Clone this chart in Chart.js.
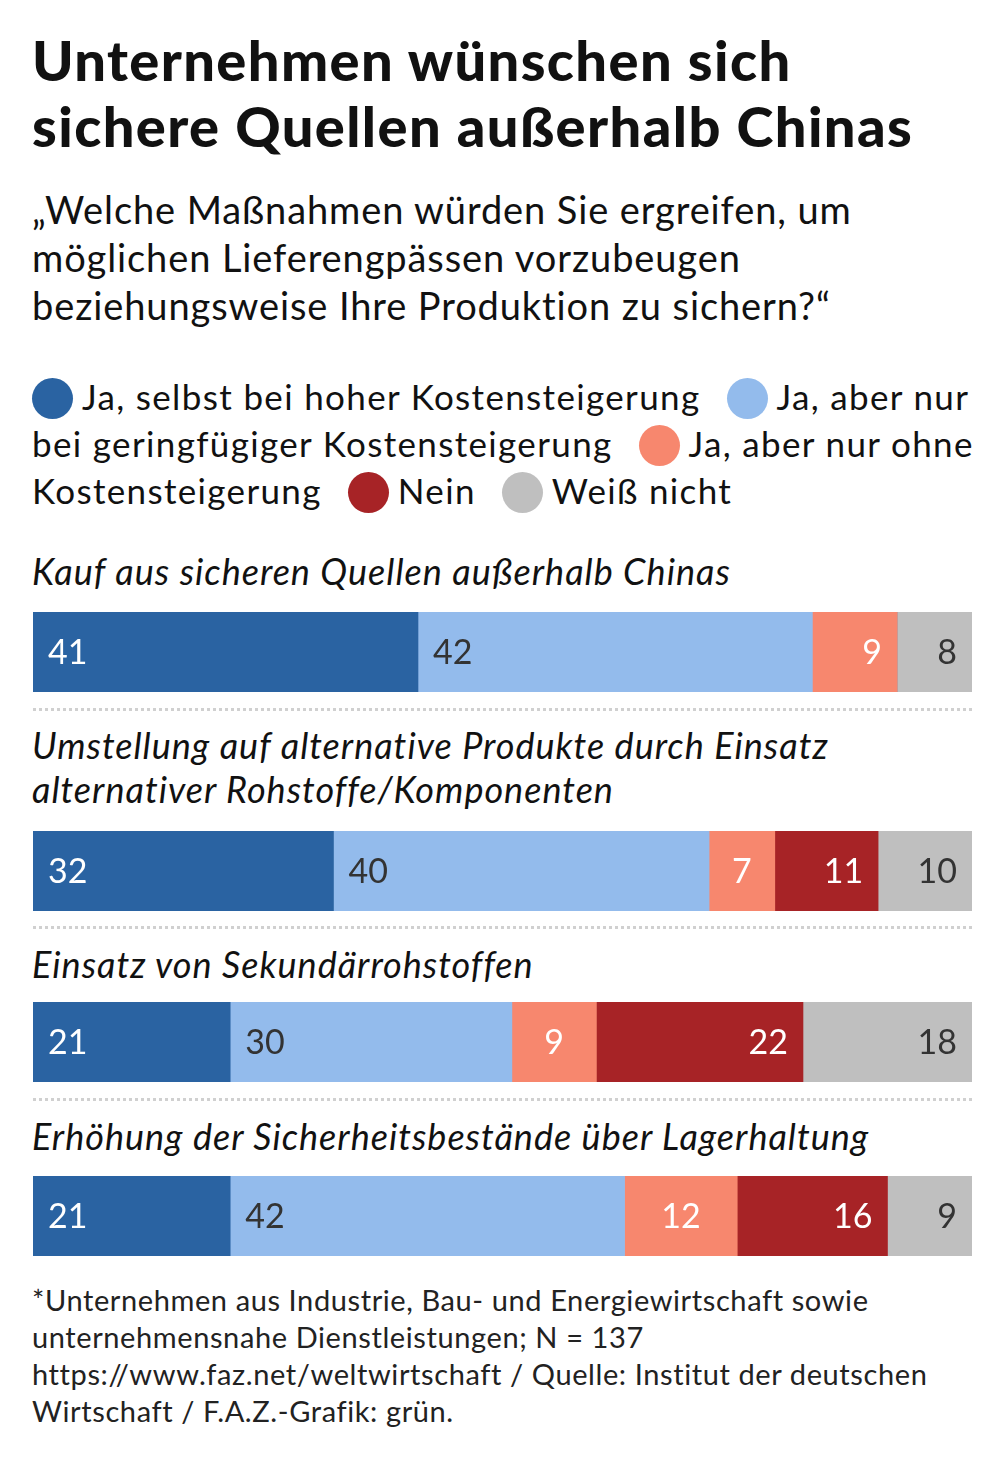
<!DOCTYPE html>
<html>
<head>
<meta charset="utf-8">
<script src="https://cdn.jsdelivr.net/npm/chart.js@4"></script>
<style>
  body { margin: 0; background: #fff; font-family: Lato, "Noto Sans", sans-serif; color: #111; }
  #page { position: relative; width: 1005px; height: 1464px; }
  .abs { position: absolute; left: 32px; }
  #title { top: 27px; font-size: 56px; line-height: 66px; font-weight: 900; letter-spacing: 1.4px; }
  #subtitle { top: 185px; font-size: 38px; line-height: 48px; letter-spacing: 0.9px; }
  #legend { top: 373px; font-size: 35px; line-height: 47px; width: 960px; letter-spacing: 1.35px; }
  #legend .dot { display: inline-block; width: 41px; height: 41px; border-radius: 50%; vertical-align: -9px; margin-right: 9px; }
  #legend .item { margin-right: 26px; }
  .rowlabel { font-size: 36px; line-height: 44px; font-style: italic; letter-spacing: 1px; }
  .bar { position: absolute; left: 33px; width: 939px; height: 80px; }
  .sep { position: absolute; left: 33px; width: 939px; border-top: 3px dotted #d0d0d0; }
  #foot { top: 1281px; font-size: 29px; line-height: 37px; color: #222; letter-spacing: 0.6px; }
</style>
</head>
<body>
<div id="page">
  <div id="title" class="abs">Unternehmen wünschen sich<br>sichere Quellen außerhalb Chinas</div>
  <div id="subtitle" class="abs">„Welche Maßnahmen würden Sie ergreifen, um<br>möglichen Lieferengpässen vorzubeugen<br>beziehungsweise Ihre Produktion zu sichern?“</div>
  <div id="legend" class="abs"></div>
  <div id="rows"></div>
  <div id="foot" class="abs">*Unternehmen aus Industrie, Bau- und Energiewirtschaft sowie<br>unternehmensnahe Dienstleistungen; N = 137<br>https://www.faz.net/weltwirtschaft / Quelle: Institut der deutschen<br>Wirtschaft / F.A.Z.-Grafik: grün.</div>
</div>
<script>
// Fragen (Kategorien), jede Zeile ein eigener Balken
var categories = [
  ['Kauf aus sicheren Quellen außerhalb Chinas'],
  ['Umstellung auf alternative Produkte durch Einsatz', 'alternativer Rohstoffe/Komponenten'],
  ['Einsatz von Sekundärrohstoffen'],
  ['Erhöhung der Sicherheitsbestände über Lagerhaltung']
];
var seriesNames = ['Ja, selbst bei hoher Kostensteigerung', 'Ja, aber nur bei geringfügiger Kostensteigerung',
                   'Ja, aber nur ohne Kostensteigerung', 'Nein', 'Weiß nicht'];
// Werte in Prozent, je Kategorie
var jaHoch   = [41, 32, 21, 21];
var jaGering = [42, 40, 30, 42];
var jaOhne   = [9, 7, 9, 12];
var nein     = [0, 11, 22, 16];
var weissNicht = [8, 10, 18, 9];

var colors = ['#2a63a2', '#93bbec', '#f7876e', '#a72326', '#bfbfbf'];
var textColors = ['#fff', '#333', '#fff', '#fff', '#333'];
var aligns = ['left', 'left', 'center', 'right', 'right'];
var series = [jaHoch, jaGering, jaOhne, nein, weissNicht];

// Legende (Zeilenumbruch wie im Original)
var legendHtml = '';
seriesNames.forEach(function (name, i) {
  var text = name;
  if (i == 1) text = 'Ja, aber nur<br>bei geringfügiger Kostensteigerung';
  if (i == 2) text = 'Ja, aber nur ohne<br>Kostensteigerung';
  legendHtml += '<span class="item"><span class="dot" style="background:' + colors[i] + '"></span>' + text + '</span>';
});
document.getElementById('legend').innerHTML = legendHtml;

// Layout der Zeilen
var labelTops = [549, 723, 942, 1114];
var barTops = [612, 831, 1002, 1176];
var sepTops = [708, 926, 1098];

var valueLabels = {
  id: 'valueLabels',
  afterDatasetsDraw: function (chart) {
    var ctx = chart.ctx;
    var row = chart.options.rowIndex;
    ctx.save();
    ctx.font = '34px Lato, "Noto Sans", sans-serif';
    ctx.textBaseline = 'middle';
    chart.data.datasets.forEach(function (ds, di) {
      var v = ds.data[0];
      if (!v) return;
      var bar = chart.getDatasetMeta(di).data[0];
      var left = Math.min(bar.base, bar.x), right = Math.max(bar.base, bar.x);
      var align = aligns[di];
      if (di == 2 && !nein[row]) align = 'right';
      var x;
      if (align == 'left') x = left + 15;
      else if (align == 'right') x = right - 15;
      else x = (left + right) / 2;
      ctx.textAlign = align;
      ctx.fillStyle = textColors[di];
      ctx.fillText(String(v), x, bar.y + 1);
    });
    ctx.restore();
  }
};

var rows = document.getElementById('rows');
categories.forEach(function (cat, r) {
  var lab = document.createElement('div');
  lab.className = 'abs rowlabel';
  lab.style.top = labelTops[r] + 'px';
  lab.innerHTML = cat.join('<br>');
  rows.appendChild(lab);

  var wrap = document.createElement('div');
  wrap.className = 'bar';
  wrap.style.top = barTops[r] + 'px';
  var cv = document.createElement('canvas');
  wrap.appendChild(cv);
  rows.appendChild(wrap);

  new Chart(cv.getContext('2d'), {
    type: 'bar',
    data: {
      labels: [cat.join(' ')],
      datasets: series.map(function (s, i) {
        return { label: seriesNames[i], data: [s[r]], backgroundColor: colors[i],
                 barPercentage: 1, categoryPercentage: 1, borderWidth: 0 };
      })
    },
    options: {
      rowIndex: r,
      indexAxis: 'y',
      responsive: true,
      maintainAspectRatio: false,
      animation: false,
      layout: { padding: 0 },
      plugins: { legend: { display: false }, tooltip: { enabled: false } },
      scales: {
        x: { stacked: true, min: 0, max: 100, display: false },
        y: { stacked: true, display: false }
      }
    },
    plugins: [valueLabels]
  });
});

sepTops.forEach(function (t) {
  var s = document.createElement('div');
  s.className = 'sep';
  s.style.top = t + 'px';
  rows.appendChild(s);
});
</script>
</body>
</html>
